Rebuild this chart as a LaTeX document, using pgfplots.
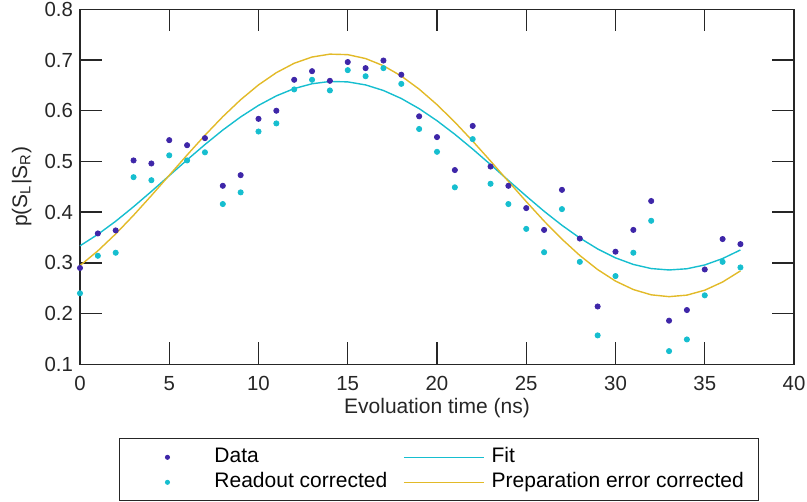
\documentclass[border=0pt]{standalone}
\usepackage{fontspec}
\setmainfont{Liberation Sans}
\usepackage{pgfplots}
\pgfplotsset{compat=1.18}

\definecolor{axisgray}{RGB}{38,38,38}
\definecolor{dpurple}{RGB}{62,38,168}
\definecolor{dcyan}{RGB}{22,190,207}
\definecolor{dgold}{RGB}{226,186,40}

\pgfplotsset{
    dotlegend/.style={legend image code/.code={%
        \path[draw=none,fill=none] (0bp,0bp) (40bp,0bp);
        \draw[##1,mark size=1bp] plot coordinates {(20bp,0bp)};}},
    linelegend/.style={legend image code/.code={%
        \draw[##1] (0bp,0bp) -- (40bp,0bp);}},
}

\begin{document}
\begin{tikzpicture}
\useasboundingbox (-40bp,-68.5bp) rectangle (363.5bp,182.15bp);
\begin{axis}[
    at={(0,0)}, anchor=south west,
    scale only axis,
    width=357bp, height=177.5bp,
    xmin=0, xmax=40, ymin=0.1, ymax=0.8,
    xtick={0,5,10,15,20,25,30,35,40},
    ytick={0.1,0.2,0.3,0.4,0.5,0.6,0.7,0.8},
    yticklabel style={/pgf/number format/.cd,fixed,fixed zerofill,precision=1},
    /pgf/number format/assume math mode=true,
    tick align=inside,
    major tick length=11bp,
    axis line style={axisgray, line width=0.7bp},
    every tick/.style={axisgray, line width=0.7bp},
    tick label style={font=\fontsize{10.2bp}{12bp}\selectfont, text=axisgray},
    xticklabel style={yshift=-2.5bp},
    label style={font=\fontsize{10.5bp}{12.5bp}\selectfont, text=axisgray},
    xlabel={Evoluation time (ns)},
    xlabel style={at={(axis description cs:0.5,-0.1386)}, anchor=base},
    ylabel={p(S\textsubscript{L}|S\textsubscript{R})},
    ylabel style={at={(axis description cs:-0.0742,0.5)}, anchor=base},
    clip=false,
    legend columns=2,
    legend cell align=left,
    legend style={
        at={(axis description cs:0.0546,-0.2085)}, anchor=north west,
        draw=axisgray, line width=0.5bp,
        inner xsep=4bp, inner ysep=3bp,
        column sep=0pt, row sep=0pt,
        font=\fontsize{10.5bp}{12.5bp}\selectfont,
        nodes={inner xsep=3.5bp, inner ysep=1.25bp, text height=7.5bp, text depth=2.5bp, text=black},
        /tikz/every even column/.append style={column sep=4.5bp},
    },
]
\addplot[only marks, mark=*, mark size=1.3bp, color=dpurple, dotlegend]
coordinates {
(0,0.290)(1,0.358)(2,0.364)(3,0.502)(4,0.496)(5,0.542)(6,0.532)(7,0.546)(8,0.452)(9,0.473)
(10,0.584)(11,0.600)(12,0.661)(13,0.678)(14,0.659)(15,0.696)(16,0.684)(17,0.699)(18,0.671)(19,0.589)
(20,0.548)(21,0.483)(22,0.570)(23,0.490)(24,0.452)(25,0.408)(26,0.365)(27,0.444)(28,0.348)(29,0.214)
(30,0.322)(31,0.365)(32,0.422)(33,0.186)(34,0.207)(35,0.287)(36,0.347)(37,0.337)
};
\addlegendentry{Data}

\addplot[no marks, color=dcyan, line width=0.7bp, linelegend]
coordinates {
(0,0.3336)(1,0.3562)(2,0.3821)(3,0.4107)(4,0.4409)(5,0.4720)(6,0.5031)(7,0.5333)(8,0.5619)(9,0.5878)
(10,0.6105)(11,0.6293)(12,0.6437)(13,0.6532)(14,0.6577)(15,0.6569)(16,0.6509)(17,0.6399)(18,0.6241)(19,0.6041)
(20,0.5803)(21,0.5535)(22,0.5244)(23,0.4938)(24,0.4626)(25,0.4317)(26,0.4018)(27,0.3741)(28,0.3491)(29,0.3275)
(30,0.3099)(31,0.2969)(32,0.2888)(33,0.2860)(34,0.2884)(35,0.2959)(36,0.3085)(37,0.3255)
};
\addlegendentry{Fit}

\addplot[only marks, mark=*, mark size=1.3bp, color=dcyan, dotlegend]
coordinates {
(0,0.240)(1,0.314)(2,0.320)(3,0.469)(4,0.463)(5,0.512)(6,0.502)(7,0.518)(8,0.416)(9,0.439)
(10,0.559)(11,0.575)(12,0.642)(13,0.661)(14,0.640)(15,0.680)(16,0.668)(17,0.684)(18,0.653)(19,0.564)
(20,0.519)(21,0.449)(22,0.544)(23,0.456)(24,0.416)(25,0.367)(26,0.321)(27,0.406)(28,0.302)(29,0.157)
(30,0.274)(31,0.320)(32,0.383)(33,0.126)(34,0.149)(35,0.236)(36,0.302)(37,0.291)
};
\addlegendentry{Readout corrected}

\addplot[no marks, color=dgold, line width=0.7bp, linelegend]
coordinates {
(0,0.2946)(1,0.3237)(2,0.3571)(3,0.3938)(4,0.4327)(5,0.4727)(6,0.5127)(7,0.5516)(8,0.5883)(9,0.6217)
(10,0.6509)(11,0.6751)(12,0.6936)(13,0.7059)(14,0.7116)(15,0.7106)(16,0.7029)(17,0.6887)(18,0.6684)(19,0.6426)
(20,0.6120)(21,0.5775)(22,0.5401)(23,0.5008)(24,0.4606)(25,0.4209)(26,0.3824)(27,0.3468)(28,0.3146)(29,0.2868)
(30,0.2641)(31,0.2474)(32,0.2370)(33,0.2334)(34,0.2364)(35,0.2461)(36,0.2623)(37,0.2842)
};
\addlegendentry{Preparation error corrected}
\end{axis}
\end{tikzpicture}
\end{document}
